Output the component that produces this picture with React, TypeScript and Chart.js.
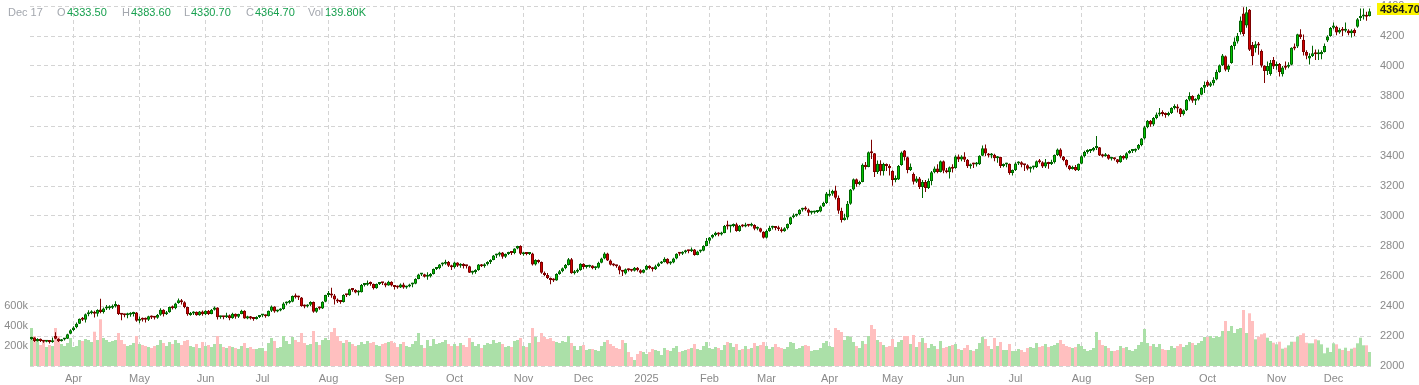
import React, { useEffect, useRef } from 'react';
import { Chart, registerables } from 'chart.js';

Chart.register(...registerables);

// ---------- categories ----------
const START_DATE = [2024, 2, 11]; // 2024-03-11 (UTC, month 0-based)
const END_DATE = [2025, 11, 17]; // 2025-12-17
const HOLIDAYS = [
  '2024-03-29', '2024-05-27', '2024-06-19', '2024-07-04', '2024-09-02', '2024-11-28', '2024-12-25',
  '2025-01-01', '2025-01-20', '2025-02-17', '2025-04-18', '2025-05-26', '2025-06-19', '2025-07-04',
  '2025-09-01', '2025-11-27',
];
const MONTH_NAMES = ['Jan', 'Feb', 'Mar', 'Apr', 'May', 'Jun', 'Jul', 'Aug', 'Sep', 'Oct', 'Nov', 'Dec'];
const PRICE_TICKS = { min: 2000, max: 4400, step: 200 };
const VOLUME_TICK_LABELS = [200, 400, 600]; // thousands
const VOLUME_AXIS_MAX = 3600; // thousands

// ---------- series (one line per month) ----------
const opens = [
  2180,2190,2166,2181,2166,2161,2164,2159,2200,2182,2165,2176,2182,2215,
  2240,2258,2282,2315,2308,2345,2351,2362,2348,2376,2360,2383,2385,2388,2398,2406,2346,2342,2338,2342,2347,2357,
  2302,2311,2309,2308,2331,2324,2322,2342,2375,2345,2358,2393,2385,2420,2438,2425,2393,2340,2350,2361,2339,2364,
  2345,2369,2347,2375,2390,2325,2327,2325,2339,2319,2349,2329,2346,2368,2316,2331,2316,2313,2327,
  2337,2339,2332,2368,2397,2363,2370,2380,2416,2421,2429,2467,2459,2456,2399,2396,2408,2426,2361,2386,2384,2428,
  2473,2480,2470,2444,2430,2427,2473,2472,2511,2507,2490,2492,2540,2541,2554,2547,2519,2546,2555,2551,2537,2561,
  2536,2526,2524,2543,2524,2530,2543,2548,2580,2610,2612,2595,2598,2614,2646,2652,2677,2682,2694,2668,
  2659,2690,2668,2675,2667,2665,2622,2627,2640,2676,2665,2678,2693,2707,2736,2741,2757,2729,2747,2756,2754,2783,2800,
  2745,2750,2746,2750,2676,2706,2694,2621,2607,2586,2573,2570,2614,2631,2651,2674,2712,2618,2628,2640,
  2681,2660,2662,2670,2652,2655,2689,2716,2750,2704,2675,2670,2665,2636,2616,2645,2638,2635,2655,2638,2621,
  2641,2669,2654,2645,2665,2683,2693,2715,2684,2690,2717,2749,2748,2759,2771,2765,2777,2740,2763,2768,2800,
  2835,2857,2873,2889,2877,2887,2933,2930,2933,2945,2900,2935,2930,2938,2935,2940,2915,2918,2895,
  2855,2900,2922,2925,2920,2912,2899,2919,2946,2991,3001,3011,3041,3049,3043,3021,3024,3027,3030,3064,3086,
  3135,3149,3170,3121,3035,2973,2990,3081,3177,3245,3212,3227,3342,3327,3425,3419,3294,3348,3298,3347,3333,
  3300,3240,3243,3340,3437,3392,3306,3280,3229,3250,3193,3227,3187,3233,3291,3316,3294,3365,3301,3292,3325,
  3320,3397,3376,3397,3375,3331,3344,3343,3345,3402,3452,3416,3404,3409,3385,3394,3334,3343,3349,3287,
  3307,3350,3358,3342,3338,3315,3323,3325,3365,3359,3330,3358,3346,3359,3406,3444,3397,3373,3336,3314,3326,3305,
  3348,3399,3427,3434,3436,3453,3458,3404,3399,3409,3382,3382,3378,3358,3400,3383,3418,3433,3435,3448,3473,
  3516,3592,3635,3610,3653,3677,3682,3680,3673,3686,3720,3725,3717,3678,3705,3775,3800,3768,3777,3809,3855,
  3895,3868,3885,3910,3960,4005,4065,3975,4020,4133,4163,4225,4350,4270,4375,4140,4118,4145,4100,4001,3966,3947,4040,
  4000,4014,3945,3990,3995,4009,4122,4130,4212,4175,4094,4050,4066,4085,4078,4079,4094,4170,4200,
  4255,4262,4224,4240,4235,4236,4218,4240,4262,4320,4330,4340,4333.5,
];
const highs = [
  2195,2192,2185,2183,2172,2170,2166,2190,2225,2185,2180,2185,2215,2245,
  2265,2290,2317,2327,2350,2372,2372,2368,2378,2448,2390,2406,2405,2410,2431,2410,2353,2349,2355,2358,2362,2360,
  2330,2323,2324,2335,2336,2332,2346,2385,2378,2366,2397,2404,2422,2450,2446,2432,2395,2360,2365,2364,2366,2370,
  2372,2373,2380,2396,2392,2335,2334,2355,2344,2355,2350,2348,2375,2372,2335,2333,2322,2332,2340,
  2346,2344,2370,2403,2399,2375,2385,2425,2430,2440,2470,2484,2469,2460,2410,2412,2432,2430,2390,2396,2432,2475,
  2500,2522,2480,2450,2440,2478,2480,2515,2516,2512,2505,2547,2550,2570,2563,2550,2550,2560,2560,2556,2568,2565,
  2540,2536,2550,2555,2535,2548,2555,2585,2615,2618,2615,2625,2620,2650,2658,2680,2690,2708,2700,2675,
  2695,2692,2685,2685,2675,2668,2635,2645,2680,2680,2685,2698,2712,2740,2748,2762,2760,2750,2762,2760,2785,2802,2805,
  2760,2755,2760,2755,2712,2710,2696,2630,2620,2590,2585,2618,2640,2656,2680,2720,2720,2640,2650,2685,
  2685,2670,2675,2672,2665,2695,2722,2758,2755,2710,2685,2675,2672,2640,2650,2650,2642,2660,2660,2645,2645,
  2675,2672,2660,2675,2690,2700,2725,2718,2698,2722,2752,2755,2765,2775,2775,2790,2780,2768,2775,2805,2853,
  2860,2878,2895,2892,2895,2940,2968,2940,2950,2955,2940,2945,2955,2945,2955,2945,2930,2922,2898,
  2910,2935,2935,2930,2935,2925,2925,2950,2995,3017,3015,3045,3055,3065,3050,3035,3035,3040,3070,3095,3160,
  3175,3175,3201,3136,3055,3015,3100,3180,3250,3250,3235,3350,3360,3430,3509,3420,3370,3372,3355,3350,3345,
  3305,3270,3340,3430,3440,3395,3350,3290,3265,3260,3240,3240,3250,3300,3330,3345,3370,3370,3320,3330,3345,
  3405,3410,3405,3425,3380,3350,3355,3360,3405,3470,3476,3420,3420,3415,3400,3395,3350,3355,3350,3310,
  3358,3365,3365,3345,3345,3330,3335,3370,3380,3365,3380,3362,3375,3410,3450,3452,3400,3378,3340,3335,3340,3350,
  3405,3435,3445,3445,3460,3534,3460,3415,3420,3412,3390,3390,3380,3405,3405,3425,3440,3445,3450,3480,3520,
  3600,3640,3640,3660,3690,3720,3705,3690,3695,3725,3745,3745,3720,3710,3780,3825,3805,3785,3815,3860,3897,
  3905,3895,3925,3975,4010,4080,4070,4010,4140,4190,4220,4330,4392,4395,4380,4160,4165,4160,4110,4005,4030,4040,4060,
  4030,4020,4000,4030,4025,4125,4150,4215,4245,4210,4105,4085,4135,4110,4110,4105,4150,4205,4260,
  4290,4268,4255,4260,4290,4245,4245,4250,4320,4384,4384,4362,4383.6,
];
const lows = [
  2175,2160,2164,2160,2155,2158,2150,2155,2178,2160,2163,2170,2180,2212,
  2233,2252,2280,2300,2290,2331,2345,2324,2330,2352,2350,2373,2375,2380,2390,2340,2305,2325,2318,2328,2330,2295,
  2285,2297,2290,2300,2313,2310,2315,2335,2330,2340,2355,2376,2378,2415,2410,2385,2335,2335,2340,2335,2335,2335,
  2340,2340,2345,2370,2310,2315,2312,2320,2305,2315,2315,2320,2345,2315,2312,2310,2302,2310,2320,
  2326,2322,2330,2360,2355,2358,2365,2375,2405,2415,2425,2450,2440,2395,2385,2390,2400,2355,2355,2375,2380,2425,
  2460,2455,2410,2420,2415,2423,2460,2468,2495,2485,2470,2490,2530,2535,2535,2510,2515,2540,2540,2525,2535,2530,
  2510,2515,2520,2515,2515,2525,2525,2545,2578,2600,2590,2575,2590,2610,2640,2645,2665,2675,2660,2640,
  2650,2660,2655,2650,2650,2620,2610,2615,2635,2660,2655,2670,2680,2705,2720,2730,2715,2720,2740,2740,2745,2778,2740,
  2735,2738,2740,2670,2670,2685,2615,2600,2580,2545,2560,2568,2608,2625,2645,2670,2615,2610,2620,2635,
  2645,2650,2655,2645,2640,2650,2685,2712,2700,2670,2665,2655,2612,2600,2610,2630,2628,2630,2630,2615,2618,
  2638,2645,2630,2640,2660,2680,2690,2678,2675,2685,2712,2735,2740,2750,2752,2760,2735,2738,2755,2765,2798,
  2815,2850,2865,2865,2870,2885,2910,2890,2925,2895,2895,2925,2925,2928,2930,2905,2905,2890,2850,
  2850,2895,2910,2905,2900,2890,2895,2910,2940,2985,2995,3005,3030,3035,3000,3010,3015,3020,3025,3060,3080,
  3128,3135,3110,3015,2957,2970,2975,3075,3170,3195,3205,3225,3310,3325,3380,3260,3280,3270,3270,3300,3270,
  3202,3225,3240,3335,3370,3285,3300,3210,3220,3180,3120,3160,3180,3205,3285,3285,3290,3285,3285,3250,3290,
  3315,3360,3365,3360,3320,3315,3320,3330,3340,3400,3400,3390,3385,3365,3355,3320,3325,3325,3275,3270,
  3300,3340,3325,3300,3305,3290,3310,3320,3350,3320,3320,3315,3340,3350,3400,3385,3365,3325,3305,3310,3300,3300,
  3345,3390,3415,3420,3430,3440,3400,3390,3395,3375,3370,3370,3350,3355,3375,3375,3415,3420,3425,3440,3465,
  3510,3585,3595,3600,3645,3665,3665,3655,3665,3680,3710,3690,3660,3670,3700,3765,3755,3740,3770,3805,3820,
  3860,3860,3870,3905,3955,4000,3965,3960,4015,4110,4150,4210,4200,4255,4100,4005,4090,4075,3990,3886,3940,3935,3980,
  3975,3930,3930,3975,3985,4005,4105,4120,4180,4070,4045,4010,4060,4040,4040,4045,4090,4160,4195,
  4245,4205,4215,4200,4225,4205,4190,4200,4255,4300,4310,4302,4330.7,
];
const closes = [
  2188,2166,2180,2167,2161,2164,2160,2160,2181,2165,2176,2178,2212,2238,
  2257,2281,2315,2308,2345,2351,2362,2348,2374,2360,2383,2385,2388,2398,2413,2346,2342,2338,2342,2347,2357,2302,
  2311,2309,2308,2331,2324,2322,2340,2375,2345,2358,2393,2385,2417,2438,2425,2393,2345,2352,2361,2339,2364,2345,
  2369,2347,2375,2390,2325,2327,2325,2339,2319,2349,2329,2346,2368,2316,2331,2316,2313,2327,2339,
  2339,2331,2369,2397,2363,2370,2379,2416,2421,2429,2467,2459,2456,2399,2396,2408,2426,2361,2386,2384,2428,2473,
  2480,2470,2444,2430,2427,2473,2472,2511,2507,2490,2492,2540,2541,2554,2547,2519,2546,2555,2551,2537,2561,2536,
  2526,2524,2543,2524,2530,2543,2548,2580,2610,2612,2595,2598,2614,2646,2652,2677,2682,2694,2668,2659,
  2690,2668,2675,2667,2665,2622,2627,2640,2676,2665,2678,2693,2707,2736,2741,2757,2729,2747,2756,2754,2783,2800,2749,
  2749,2746,2750,2676,2706,2694,2621,2607,2586,2573,2570,2614,2631,2651,2674,2712,2618,2628,2640,2681,
  2660,2662,2670,2652,2655,2689,2716,2750,2704,2675,2670,2665,2636,2628,2645,2638,2635,2655,2638,2621,2641,
  2669,2654,2645,2665,2683,2693,2715,2684,2690,2717,2749,2748,2759,2771,2765,2777,2740,2763,2768,2800,2835,
  2857,2873,2889,2877,2887,2933,2930,2933,2945,2900,2935,2930,2938,2935,2940,2915,2918,2895,2855,
  2900,2922,2925,2920,2912,2899,2919,2946,2991,3001,3011,3041,3049,3043,3021,3024,3027,3030,3064,3086,3150,
  3149,3166,3121,3035,2973,2990,3081,3177,3245,3212,3227,3342,3327,3425,3419,3294,3348,3298,3347,3333,3319,
  3240,3243,3333,3423,3392,3306,3329,3229,3250,3193,3227,3187,3233,3291,3316,3294,3365,3301,3292,3325,3315,
  3397,3376,3397,3375,3331,3344,3343,3345,3402,3452,3416,3404,3409,3385,3394,3334,3343,3349,3287,3307,
  3350,3358,3342,3338,3315,3323,3325,3365,3359,3330,3358,3346,3359,3406,3444,3397,3373,3336,3314,3326,3305,3348,
  3399,3427,3434,3436,3453,3458,3404,3399,3409,3382,3384,3378,3358,3400,3383,3418,3433,3435,3448,3473,3516,
  3592,3635,3610,3653,3677,3682,3680,3673,3686,3720,3725,3717,3678,3705,3775,3800,3768,3777,3809,3855,3873,
  3868,3885,3908,3960,4005,4070,3975,4000,4133,4163,4201,4304,4213,4359,4109,4065,4145,4137,4001,3966,4000,4022,3996,
  4014,3960,3990,3988,4009,4122,4116,4212,4194,4094,4068,4066,4085,4078,4079,4094,4133,4196,4254,
  4270,4224,4240,4235,4243,4218,4236,4218,4311,4328,4335,4329,4364.7,
];
// volume in thousands
const volumes = [
  380,300,250,210,240,190,210,200,380,300,220,200,230,280,
  190,200,260,250,270,260,240,343,260,467,280,260,240,250,260,330,260,220,200,210,230,300,
  220,210,200,190,180,200,210,260,230,200,240,220,260,230,210,250,260,200,190,220,180,240,
  200,210,190,220,300,220,190,180,200,190,180,170,200,230,180,190,170,170,180,
  180,150,230,280,250,180,190,300,250,220,290,260,240,330,230,210,220,350,240,210,260,280,
  260,340,380,300,250,230,260,240,220,200,210,240,220,250,230,240,210,200,220,230,240,250,
  230,190,220,240,200,190,220,250,330,210,180,260,200,270,220,230,240,260,220,200,
  220,200,230,210,190,280,240,200,220,180,210,230,220,260,230,240,220,190,200,190,250,260,280,
  200,190,230,380,290,240,330,290,270,280,250,240,230,250,240,300,230,200,160,200,
  210,160,170,170,160,150,200,240,260,220,200,180,170,260,230,140,90,60,120,150,140,
  120,140,170,160,150,110,180,160,150,180,200,140,150,160,170,180,220,170,160,200,240,
  180,170,190,180,160,210,240,230,190,220,160,170,200,170,180,230,200,210,240,
  200,170,190,220,190,180,170,190,240,230,170,180,200,210,200,150,160,160,180,230,250,
  200,190,380,360,340,260,300,290,240,200,180,250,220,300,410,370,260,240,210,190,200,
  270,190,240,260,300,300,220,310,190,240,280,230,180,220,200,170,250,180,190,200,210,
  220,170,160,180,210,160,150,170,230,290,270,200,170,280,200,240,160,160,220,150,
  150,170,160,140,180,190,180,230,190,200,220,190,200,210,230,260,220,200,190,180,190,220,
  200,170,150,160,180,340,260,210,200,180,150,150,160,200,180,190,160,150,170,210,240,
  370,230,200,220,190,220,170,160,160,200,180,200,220,190,210,240,230,210,230,250,290,
  290,300,280,300,290,350,450,350,400,330,370,380,560,330,527,450,267,293,317,327,283,250,233,
  217,243,173,183,207,243,243,293,310,327,233,227,227,267,257,217,127,183,140,
  227,217,173,160,183,150,173,183,227,283,207,207,139.8,
];

// ---------- helpers ----------
function pad(n: number) { return n < 10 ? '0' + n : '' + n; }
function buildTradingDays(): string[] {
  const out: string[] = [];
  const d = new Date(Date.UTC(START_DATE[0], START_DATE[1], START_DATE[2]));
  const end = new Date(Date.UTC(END_DATE[0], END_DATE[1], END_DATE[2]));
  while (d.getTime() <= end.getTime()) {
    const wd = d.getUTCDay();
    const iso = d.getUTCFullYear() + '-' + pad(d.getUTCMonth() + 1) + '-' + pad(d.getUTCDate());
    if (wd !== 0 && wd !== 6 && HOLIDAYS.indexOf(iso) < 0) out.push(iso);
    d.setUTCDate(d.getUTCDate() + 1);
  }
  return out;
}

const labels = buildTradingDays();
const monthStarts: number[] = [];
labels.forEach((d, i) => {
  if (i > 0 && d.slice(0, 7) !== labels[i - 1].slice(0, 7)) monthStarts.push(i);
});
function monthLabel(i: number): string {
  const d = labels[i];
  if (!d) return '';
  const m = +d.slice(5, 7);
  return m === 1 ? d.slice(0, 4) : MONTH_NAMES[m - 1];
}

const UP_BODY = '#00c400';
const UP_LINE = '#006400';
const DN_BODY = '#d40000';
const DN_LINE = '#7c0000';
const VOL_UP = '#abe0a8';
const VOL_DN = '#ffbfbf';
const GRID = '#d4d4d4';
const AXIS_TEXT = '#8a8a8a';
const FONT = '"Liberation Sans", Arial, Helvetica, sans-serif';

const last = closes.length - 1;

export default function App() {
  const ref = useRef<HTMLCanvasElement>(null);

  useEffect(() => {
    if (!ref.current) return;
    Chart.defaults.font.family = FONT;
    const up = closes.map((c, i) => c >= opens[i]);

    const lastPricePlugin = {
      id: 'lastPrice',
      afterDraw(chart: any) {
        const ctx = chart.ctx;
        const y = chart.scales.y.getPixelForValue(closes[last]);
        const x0 = chart.chartArea.right + 6;
        ctx.save();
        ctx.fillStyle = '#fbf400';
        ctx.fillRect(x0, Math.round(y - 8), chart.width - x0, 12);
        ctx.fillStyle = '#1a1a1a';
        ctx.font = 'bold 11px ' + FONT;
        ctx.textBaseline = 'middle';
        ctx.textAlign = 'left';
        ctx.fillText(closes[last].toFixed(2), x0 + 3, Math.round(y - 8) + 6.5);
        ctx.restore();
      },
    };

    const chart = new Chart(ref.current, {
      type: 'bar',
      data: {
        labels,
        datasets: [
          {
            type: 'bar',
            label: 'body',
            data: opens.map((o, i) => [Math.min(o, closes[i]), Math.max(o, closes[i])]) as any,
            backgroundColor: up.map((u) => (u ? UP_BODY : DN_BODY)),
            borderColor: up.map((u) => (u ? UP_LINE : DN_LINE)),
            borderWidth: 1,
            borderSkipped: false,
            minBarLength: 2,
            barPercentage: 1,
            categoryPercentage: 1,
            maxBarThickness: 3,
            inflateAmount: 0,
            grouped: false,
            yAxisID: 'y',
            order: 0,
          } as any,
          {
            type: 'bar',
            label: 'wick',
            data: lows.map((l, i) => [l, highs[i]]) as any,
            backgroundColor: up.map((u) => (u ? UP_LINE : DN_LINE)),
            borderWidth: 0,
            barPercentage: 1,
            categoryPercentage: 1,
            maxBarThickness: 1,
            inflateAmount: 0,
            grouped: false,
            yAxisID: 'y',
            order: 1,
          } as any,
          {
            type: 'bar',
            label: 'volume',
            data: volumes,
            backgroundColor: up.map((u) => (u ? VOL_UP : VOL_DN)),
            borderWidth: 0,
            barPercentage: 1,
            categoryPercentage: 1,
            inflateAmount: 0,
            grouped: false,
            yAxisID: 'yVol',
            order: 2,
          } as any,
        ],
      },
      options: {
        responsive: false,
        animation: false,
        devicePixelRatio: 1,
        events: [],
        layout: { padding: { top: 6, left: 0, right: 0, bottom: 0 } },
        plugins: { legend: { display: false }, tooltip: { enabled: false } },
        scales: {
          x: {
            type: 'category',
            offset: true,
            grid: { offset: false, color: GRID, drawTicks: false, lineWidth: 1 },
            border: { display: false, dash: [4, 3] },
            ticks: {
              autoSkip: false,
              maxRotation: 0,
              padding: 6,
              color: AXIS_TEXT,
              font: { size: 11 },
              callback: (v: any) => monthLabel(Number(v)),
            },
            afterBuildTicks: (s: any) => {
              s.ticks = monthStarts.map((i) => ({ value: i }));
            },
            afterFit: (s: any) => {
              s.height = 19;
              s.paddingLeft = 0;
              s.paddingRight = 0;
            },
          },
          y: {
            position: 'right',
            min: PRICE_TICKS.min,
            max: PRICE_TICKS.max,
            ticks: {
              stepSize: PRICE_TICKS.step,
              padding: 9,
              color: AXIS_TEXT,
              font: { size: 11 },
              callback: (v: any) => String(v),
            },
            grid: { color: GRID, drawTicks: false, lineWidth: 1 },
            border: { display: false, dash: [4, 3] },
            afterFit: (s: any) => {
              s.width = 48;
              s.paddingTop = 0;
              s.paddingBottom = 0;
            },
          },
          yVol: {
            position: 'left',
            min: 0,
            max: VOLUME_AXIS_MAX,
            ticks: {
              padding: 2,
              color: AXIS_TEXT,
              font: { size: 11 },
              callback: (v: any) => v + 'k',
            },
            afterBuildTicks: (s: any) => {
              s.ticks = VOLUME_TICK_LABELS.map((v) => ({ value: v }));
            },
            grid: { display: false, drawTicks: false },
            border: { display: false },
            afterFit: (s: any) => {
              s.width = 30;
              s.paddingTop = 0;
              s.paddingBottom = 0;
            },
          },
        },
      } as any,
      plugins: [lastPricePlugin],
    });
    return () => chart.destroy();
  }, []);

  const lastDate = labels[labels.length - 1] || '';
  const dateText = lastDate ? MONTH_NAMES[+lastDate.slice(5, 7) - 1] + ' ' + +lastDate.slice(8, 10) : '';
  const gray = '#a3a7ae';
  const green = '#17a04e';
  const span = (left: number, color: string, text: string) => (
    <span style={{ position: 'absolute', left, color }}>{text}</span>
  );

  return (
    <div
      style={{
        position: 'fixed',
        left: 0,
        top: 0,
        width: 1419,
        height: 385,
        background: '#ffffff',
        fontFamily: FONT,
        overflow: 'hidden',
      }}
    >
      <canvas ref={ref} width={1419} height={385} style={{ display: 'block' }} />
      <div style={{ position: 'absolute', left: 0, top: 5, fontSize: 11, lineHeight: '14px', whiteSpace: 'nowrap' }}>
        {span(8, gray, dateText)}
        {span(57, gray, 'O')}
        {span(67, green, opens[last].toFixed(2))}
        {span(122, gray, 'H')}
        {span(131, green, highs[last].toFixed(2))}
        {span(184, gray, 'L')}
        {span(191, green, lows[last].toFixed(2))}
        {span(246, gray, 'C')}
        {span(255, green, closes[last].toFixed(2))}
        {span(308, gray, 'Vol')}
        {span(325, green, volumes[last].toFixed(2) + 'K')}
      </div>
    </div>
  );
}
